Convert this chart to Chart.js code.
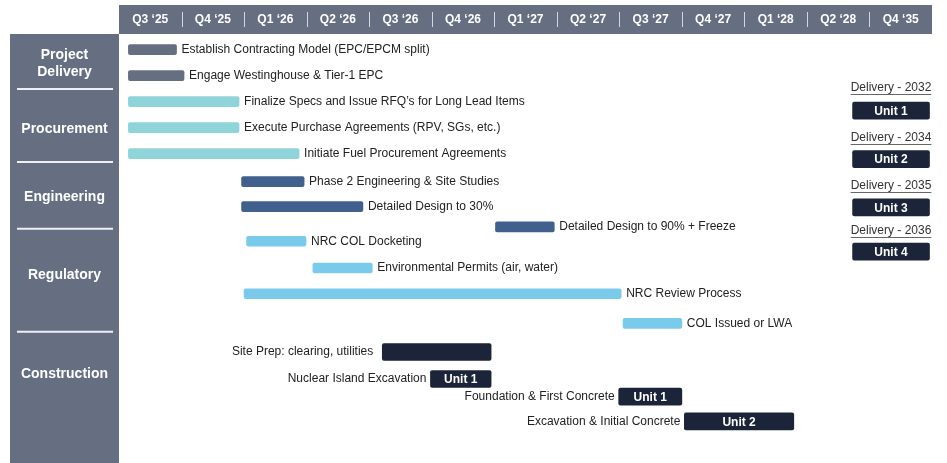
<!DOCTYPE html>
<html>
<head>
<meta charset="utf-8">
<script src="https://cdn.jsdelivr.net/npm/chart.js@4"></script>
<style>
  html, body { margin: 0; padding: 0; background: #fff; }
  #chart { display: block; }
</style>
</head>
<body>
<canvas id="chart" width="947" height="463"></canvas>
<script>
// quarter columns across the top (x scale: one unit per quarter)
const quarters = ['Q3 \u201825', 'Q4 \u201825', 'Q1 \u201826', 'Q2 \u201826', 'Q3 \u201826', 'Q4 \u201826',
  'Q1 \u201827', 'Q2 \u201827', 'Q3 \u201827', 'Q4 \u201827', 'Q1 \u201828', 'Q2 \u201828', 'Q4 \u201835'];

// workstreams on the left (lanes are row positions on the y scale)
const groupNames = [['Project', 'Delivery'], ['Procurement'], ['Engineering'], ['Regulatory'], ['Construction']];
const groupLane = [0.53, 3.07, 5.66, 8.67, 12.49];
const groupDividers = [1.515, 4.32, 6.89, 10.85];

// thin task bars, label on the right
const taskNames = [
  'Establish Contracting Model (EPC/EPCM split)',
  'Engage Westinghouse & Tier-1 EPC',
  'Finalize Specs and Issue RFQ\u2019s for Long Lead Items',
  'Execute Purchase Agreements (RPV, SGs, etc.)',
  'Initiate Fuel Procurement Agreements',
  'Phase 2 Engineering & Site Studies',
  'Detailed Design to 30%',
  'Detailed Design to 90% + Freeze',
  'NRC COL Docketing',
  'Environmental Permits (air, water)',
  'NRC Review Process',
  'COL Issued or LWA'
];
const taskStart = [0.15, 0.15, 0.15, 0.15, 0.15, 1.96, 1.96, 6.02, 2.04, 3.10, 2.00, 8.06];
const taskEnd   = [0.92, 1.04, 1.92, 1.92, 2.88, 2.96, 3.90, 6.96, 2.99, 4.05, 8.03, 9.00];
const taskLane  = [0, 1, 2, 3, 4, 5.08, 6.04, 6.82, 7.37, 8.4, 9.39, 10.53];
const taskGroup = ['pd', 'pd', 'proc', 'proc', 'proc', 'eng', 'eng', 'eng', 'reg', 'reg', 'reg', 'reg'];

// construction bars, label on the left
const buildNames = ['Site Prep: clearing, utilities', 'Nuclear Island Excavation', 'Foundation & First Concrete', 'Excavation & Initial Concrete'];
const buildStart = [4.21, 4.98, 7.99, 9.04];
const buildEnd   = [5.95, 5.95, 9.00, 10.79];
const buildLane  = [11.63, 12.67, 13.35, 14.30];
const buildUnit  = ['', 'Unit 1', 'Unit 1', 'Unit 2'];

// delivery column on the right
const deliveryYears = ['Delivery - 2032', 'Delivery - 2034', 'Delivery - 2035', 'Delivery - 2036'];
const deliveryUnits = ['Unit 1', 'Unit 2', 'Unit 3', 'Unit 4'];
const deliveryStart = [11.73, 11.73, 11.73, 11.73];
const deliveryEnd   = [12.96, 12.96, 12.96, 12.96];
const deliveryLane  = [2.35, 4.21, 6.07, 7.77];
const deliveryTextLane = [1.46, 3.40, 5.25, 6.98];

const COLORS = { pd: '#666f82', proc: '#8ed4d9', eng: '#41608e', reg: '#7acbeb', cons: '#1b2439' };
const HEADER = '#666f82';
const FONT = '"Liberation Sans", Arial, sans-serif';

const ganttDecor = {
  id: 'ganttDecor',
  beforeDraw(chart) {
    const ctx = chart.ctx;
    const area = chart.chartArea;
    const xs = chart.scales.x, ys = chart.scales.y;
    ctx.save();
    // header band
    ctx.fillStyle = HEADER;
    ctx.fillRect(area.left, 5, area.right - area.left, area.top - 5);
    ctx.fillStyle = '#fff';
    ctx.font = 'bold 12px ' + FONT;
    ctx.textAlign = 'center';
    ctx.textBaseline = 'middle';
    quarters.forEach((q, i) => {
      ctx.fillText(q, xs.getPixelForValue(i + 0.5), 20);
    });
    ctx.strokeStyle = '#d3d7de';
    ctx.lineWidth = 1;
    for (let i = 1; i < quarters.length; i++) {
      const x = Math.round(xs.getPixelForValue(i)) + 0.5;
      ctx.beginPath(); ctx.moveTo(x, 12); ctx.lineTo(x, 27); ctx.stroke();
    }
    // sidebar
    const sl = 10, sr = area.left;
    ctx.fillStyle = HEADER;
    ctx.fillRect(sl, area.top, sr - sl, area.bottom - area.top);
    ctx.strokeStyle = '#eef0f3';
    ctx.lineWidth = 2;
    groupDividers.forEach(v => {
      const y = ys.getPixelForValue(v);
      ctx.beginPath(); ctx.moveTo(sl + 7, y); ctx.lineTo(sr - 6, y); ctx.stroke();
    });
    ctx.fillStyle = '#fff';
    ctx.font = 'bold 14px ' + FONT;
    groupNames.forEach((lines, i) => {
      const yc = ys.getPixelForValue(groupLane[i]);
      lines.forEach((t, j) => {
        ctx.fillText(t, (sl + sr) / 2, yc + (j - (lines.length - 1) / 2) * 17);
      });
    });
    ctx.restore();
  },
  afterDatasetsDraw(chart) {
    const ctx = chart.ctx;
    const ys = chart.scales.y;
    ctx.save();
    ctx.textBaseline = 'middle';
    // task labels to the right
    ctx.font = '12px ' + FONT;
    ctx.fillStyle = '#222';
    ctx.textAlign = 'left';
    chart.getDatasetMeta(0).data.forEach((bar, i) => {
      ctx.fillText(taskNames[i], bar.x + 5, bar.y);
    });
    // construction labels to the left, unit inside
    chart.getDatasetMeta(1).data.forEach((bar, i) => {
      ctx.font = '12px ' + FONT;
      ctx.fillStyle = '#222';
      ctx.textAlign = 'right';
      ctx.fillText(buildNames[i], bar.base - (i === 0 ? 9 : 4), bar.y);
      if (buildUnit[i]) {
        ctx.font = 'bold 12px ' + FONT;
        ctx.fillStyle = '#fff';
        ctx.textAlign = 'center';
        ctx.fillText(buildUnit[i], (bar.x + bar.base) / 2, bar.y + 1);
      }
    });
    // delivery column
    chart.getDatasetMeta(2).data.forEach((bar, i) => {
      const cx = (bar.x + bar.base) / 2;
      ctx.font = 'bold 12px ' + FONT;
      ctx.fillStyle = '#fff';
      ctx.textAlign = 'center';
      ctx.fillText(deliveryUnits[i], cx, bar.y + 1);
      ctx.font = '12px ' + FONT;
      ctx.fillStyle = '#333';
      const ty = ys.getPixelForValue(deliveryTextLane[i]);
      ctx.fillText(deliveryYears[i], cx, ty);
      const w = ctx.measureText(deliveryYears[i]).width;
      ctx.strokeStyle = '#666';
      ctx.lineWidth = 1;
      ctx.beginPath();
      ctx.moveTo(cx - w / 2, Math.round(ty + 6) + 0.5);
      ctx.lineTo(cx + w / 2, Math.round(ty + 6) + 0.5);
      ctx.stroke();
    });
    ctx.restore();
  }
};

new Chart(document.getElementById('chart'), {
  type: 'bar',
  data: {
    datasets: [
      {
        label: 'tasks',
        stack: 'g',
        data: taskNames.map((_, i) => ({ x: [taskStart[i], taskEnd[i]], y: taskLane[i] })),
        backgroundColor: taskGroup.map(g => COLORS[g]),
        barThickness: 10,
        borderRadius: 2,
        borderSkipped: false
      },
      {
        label: 'construction',
        stack: 'g',
        data: buildNames.map((_, i) => ({ x: [buildStart[i], buildEnd[i]], y: buildLane[i] })),
        backgroundColor: COLORS.cons,
        barThickness: 17,
        borderRadius: 2,
        borderSkipped: false
      },
      {
        label: 'delivery',
        stack: 'g',
        data: deliveryUnits.map((_, i) => ({ x: [deliveryStart[i], deliveryEnd[i]], y: deliveryLane[i] })),
        backgroundColor: COLORS.cons,
        barThickness: 17,
        borderRadius: 2,
        borderSkipped: false
      }
    ]
  },
  options: {
    indexAxis: 'y',
    responsive: false,
    animation: false,
    layout: { padding: { left: 119, right: 15, top: 34, bottom: 0 } },
    plugins: { legend: { display: false }, tooltip: { enabled: false } },
    scales: {
      x: { type: 'linear', min: 0, max: quarters.length, stacked: false, offset: false, display: false },
      y: { type: 'linear', min: -0.6, max: 15.9, reverse: true, offset: false, grace: 0, display: false }
    }
  },
  plugins: [ganttDecor]
});
</script>
</body>
</html>
